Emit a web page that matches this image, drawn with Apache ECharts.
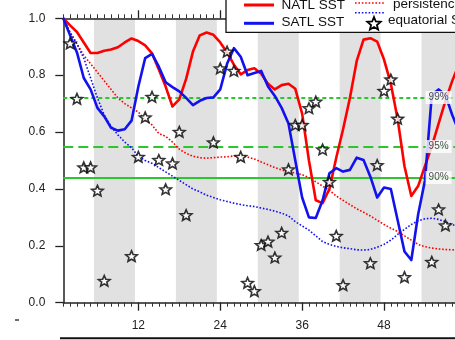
<!DOCTYPE html>
<html>
<head>
<meta charset="utf-8">
<script src="https://cdn.jsdelivr.net/npm/echarts@6/dist/echarts.min.js"></script>
<style>
  html, body { margin: 0; padding: 0; background: #fff; }
  #chart { width: 455px; height: 340px; }
</style>
</head>
<body>
<div id="chart"></div>
<script>
// Lead time in months
const months = [1,2,3,4,5,6,7,8,9,10,11,12,13,14,15,16,17,18,19,20,21,22,23,24,25,26,27,28,29,30,
                31,32,33,34,35,36,37,38,39,40,41,42,43,44,45,46,47,48,49,50,51,52,53,54,55,56,57,58,59];
const majorMonths = [12, 24, 36, 48, 60];

// Correlation skill, North Atlantic SST
const natlSST = [1.00,0.975,0.952,0.915,0.878,0.878,0.886,0.89,0.898,0.915,
                 0.929,0.92,0.905,0.877,0.82,0.76,0.69,0.715,0.787,0.883,
                 0.94,0.95,0.942,0.915,0.88,0.837,0.803,0.818,0.824,0.805,
                 0.77,0.75,0.765,0.77,0.752,0.665,0.50,0.36,0.35,0.40,
                 0.51,0.61,0.72,0.85,0.925,0.93,0.918,0.855,0.77,0.645,
                 0.48,0.375,0.41,0.48,0.55,0.63,0.71,0.78,0.84];

// Correlation skill, South Atlantic SST
const satlSST = [1.00,0.94,0.88,0.79,0.75,0.685,0.655,0.615,0.605,0.61,
                 0.64,0.76,0.86,0.875,0.83,0.775,0.758,0.743,0.72,0.695,
                 0.71,0.72,0.722,0.75,0.84,0.895,0.865,0.80,0.808,0.815,
                 0.76,0.727,0.685,0.63,0.50,0.37,0.30,0.298,0.36,0.455,
                 0.473,0.461,0.467,0.51,0.502,0.443,0.37,0.405,0.40,0.29,
                 0.18,0.15,0.31,0.43,0.73,0.75,0.73,0.66,0.60];

// Persistence forecasts
const persistNATL = [1.0,0.95,0.91,0.87,0.84,0.81,0.78,0.75,0.72,0.70,
                     0.685,0.67,0.645,0.625,0.595,0.585,0.565,0.54,0.525,0.515,
                     0.51,0.508,0.51,0.512,0.513,0.516,0.516,0.512,0.505,0.495,
                     0.485,0.475,0.467,0.46,0.456,0.45,0.44,0.425,0.41,0.395,
                     0.375,0.36,0.345,0.33,0.318,0.305,0.29,0.275,0.262,0.25,
                     0.235,0.22,0.205,0.197,0.192,0.189,0.187,0.186,0.185];
const persistSATL = [1.0,0.95,0.91,0.86,0.79,0.72,0.66,0.62,0.59,0.565,
                     0.545,0.515,0.50,0.49,0.475,0.46,0.445,0.43,0.415,0.40,
                     0.39,0.378,0.37,0.362,0.356,0.35,0.345,0.341,0.338,0.333,
                     0.328,0.322,0.315,0.305,0.285,0.27,0.255,0.235,0.215,0.205,
                     0.198,0.193,0.19,0.186,0.185,0.187,0.195,0.205,0.22,0.24,
                     0.258,0.275,0.288,0.295,0.297,0.293,0.285,0.275,0.265];

// Equatorial SST skill (stars)
const eqMonths = [2,3,4,5,6,7,11,12,13,14,15,16,17,18,19,
                  23,24,25,26,27,28,29,30,31,32,33,34,35,36,37,38,39,40,41,42,
                  46,47,48,49,50,51,55,56,57];
const eqSST = [0.912,0.717,0.476,0.476,0.394,0.077,0.164,0.513,0.652,0.724,0.502,0.399,0.49,0.601,0.308,
               0.564,0.824,0.883,0.815,0.513,0.070,0.041,0.203,0.215,0.159,0.246,0.469,0.625,0.625,0.684,0.707,0.539,0.425,0.235,0.062,
               0.139,0.484,0.745,0.785,0.647,0.090,0.144,0.328,0.272];

// Shaded seasons
const bandStart = [5.5, 17.5, 29.5, 41.5, 53.5];
const bandEnd   = [11.5, 23.5, 35.5, 47.5, 59.5];

// Significance levels
const sigNames  = ['99%', '95%', '90%'];
const sigLevels = [0.7215, 0.549, 0.44];

const FONT = '"Liberation Sans", Arial, Helvetica, sans-serif';
const RED = '#ff0000';
const BLUE = '#1212ee';
const GREEN = '#2ec62e';
const STAR = 'path://M10 0L12.645 6.359L19.511 6.91L14.28 11.391L15.878 18.09L10 14.5L4.122 18.09L5.72 11.391L0.489 6.91L7.355 6.359Z';
const sigStyles = [
  { type: [4, 3], width: 2 },
  { type: [10, 5], width: 2 },
  { type: 'solid', width: 1.8 }
];

const pair = (xs, ys) => xs.map((x, i) => [x, ys[i]]);

// five-pointed star outline for the legend key
function starPoints(cx, cy, rOut, rIn) {
  const pts = [];
  for (let k = 0; k < 10; k++) {
    const r = k % 2 === 0 ? rOut : rIn;
    const a = -Math.PI / 2 + k * Math.PI / 5;
    pts.push([cx + r * Math.cos(a), cy + r * Math.sin(a)]);
  }
  return pts;
}

const chart = echarts.init(document.getElementById('chart'), null, { renderer: 'canvas' });

const axisColor = '#222';
function minorAxis(position) {
  return {
    type: 'value', position, min: 1, max: 60, interval: 1,
    axisLine: { show: true, onZero: false, lineStyle: { color: axisColor, width: 1.5 } },
    axisTick: { show: true, length: 4, lineStyle: { color: '#333', width: 1 } },
    axisLabel: { show: false },
    splitLine: { show: false }
  };
}
function majorAxis(position, withLabels) {
  return {
    type: 'value', position, min: 1, max: 60,
    axisLine: { show: false, onZero: false },
    axisTick: { show: true, length: 8, customValues: majorMonths, lineStyle: { color: axisColor, width: 1.3 } },
    axisLabel: {
      show: withLabels, customValues: majorMonths, margin: 16.5,
      fontSize: 12, color: '#222', fontFamily: FONT
    },
    splitLine: { show: false }
  };
}

function legendText(text, x, y) {
  return { type: 'text', z: 101, x: x, y: y,
    style: { text: text, verticalAlign: 'middle', fontSize: 13.5, fontFamily: FONT, fill: '#111' } };
}

const option = {
  animation: false,
  backgroundColor: '#fff',
  grid: { left: 63.3, right: -10.9, top: 18.3, bottom: 37.3, containLabel: false, outerBoundsMode: 'none' },
  xAxis: [minorAxis('bottom'), majorAxis('bottom', true), minorAxis('top'), majorAxis('top', false)],
  yAxis: {
    type: 'value', min: 0, max: 1, interval: 0.2,
    axisLine: { show: true, lineStyle: { color: axisColor, width: 1.5 } },
    axisTick: { show: true, length: 8, lineStyle: { color: axisColor, width: 1.3 } },
    axisLabel: { formatter: v => v.toFixed(1), margin: 18, fontSize: 12, color: '#222', fontFamily: FONT },
    splitLine: { show: false }
  },
  series: [
    {
      // seasonal shading and significance levels
      type: 'line', data: [], z: 1, silent: true,
      markArea: {
        silent: true, z: 0,
        itemStyle: { color: '#e1e1e1' },
        data: bandStart.map((s, i) => [{ xAxis: s, yAxis: 0 }, { xAxis: bandEnd[i], yAxis: 1 }])
      },
      markLine: {
        silent: true, z: 1, symbol: ['none', 'none'],
        label: { show: false },
        data: sigLevels.map((v, i) => ({
          yAxis: v,
          lineStyle: { color: GREEN, type: sigStyles[i].type, width: sigStyles[i].width }
        }))
      }
    },
    {
      name: 'persistence NATL', type: 'line', z: 2, silent: true,
      data: pair(months, persistNATL), showSymbol: false,
      lineStyle: { color: RED, width: 1.6, type: [1.6, 1.8] }
    },
    {
      name: 'persistence SATL', type: 'line', z: 2, silent: true,
      data: pair(months, persistSATL), showSymbol: false,
      lineStyle: { color: BLUE, width: 1.6, type: [1.6, 1.8] }
    },
    {
      name: 'NATL SST', type: 'line', z: 3, silent: true,
      data: pair(months, natlSST), showSymbol: false,
      lineStyle: { color: RED, width: 2.6, join: 'round' }
    },
    {
      name: 'SATL SST', type: 'line', z: 4, silent: true,
      data: pair(months, satlSST), showSymbol: false,
      lineStyle: { color: BLUE, width: 2.6, join: 'round' }
    },
    {
      name: 'equatorial SST', type: 'scatter', z: 6, silent: true,
      data: pair(eqMonths, eqSST),
      symbol: STAR, symbolSize: [11.5, 11], symbolKeepAspect: true,
      itemStyle: { color: '#fff', borderColor: '#000', borderWidth: 1.6 }
    },
    {
      // significance level tags
      type: 'scatter', z: 8, silent: true,
      data: sigLevels.map(v => [56, v]),
      symbol: 'rect', symbolSize: 1,
      itemStyle: { color: 'rgba(0,0,0,0)' },
      label: {
        show: true, position: 'inside',
        formatter: p => sigNames[p.dataIndex],
        backgroundColor: '#fff', padding: [2, 3, 1, 3],
        fontSize: 10, color: '#222', fontFamily: FONT
      }
    }
  ],
  graphic: [
    // legend frame
    { type: 'rect', z: 100, shape: { x: 226, y: -6, width: 240, height: 38.3 },
      style: { fill: '#fff', stroke: '#111', lineWidth: 1.3 } },
    { type: 'line', z: 101, shape: { x1: 244, y1: 5, x2: 274, y2: 5 },
      style: { stroke: RED, lineWidth: 3 } },
    { type: 'line', z: 101, shape: { x1: 244, y1: 23.3, x2: 274, y2: 23.3 },
      style: { stroke: BLUE, lineWidth: 3 } },
    legendText('NATL SST', 281.5, 5.3),
    legendText('SATL SST', 281.5, 22),
    { type: 'line', z: 101, shape: { x1: 355, y1: 3, x2: 385, y2: 3 },
      style: { stroke: RED, lineWidth: 1.6, lineDash: [1.6, 1.8] } },
    { type: 'line', z: 101, shape: { x1: 355, y1: 12.7, x2: 385, y2: 12.7 },
      style: { stroke: BLUE, lineWidth: 1.6, lineDash: [1.6, 1.8] } },
    legendText('persistence', 393, 4),
    { type: 'polygon', z: 101, shape: { points: starPoints(374, 24, 7, 3.1) },
      style: { fill: '#fff', stroke: '#000', lineWidth: 1.8 } },
    legendText('equatorial SST', 388, 20.5),
    // edge of the panel below
    { type: 'line', z: 101, shape: { x1: 60, y1: 338.3, x2: 455, y2: 338.3 },
      style: { stroke: '#111', lineWidth: 2 } },
    { type: 'line', z: 101, shape: { x1: 15, y1: 320, x2: 19, y2: 320 },
      style: { stroke: '#222', lineWidth: 1.3 } }
  ]
};

chart.setOption(option);
</script>
</body>
</html>
